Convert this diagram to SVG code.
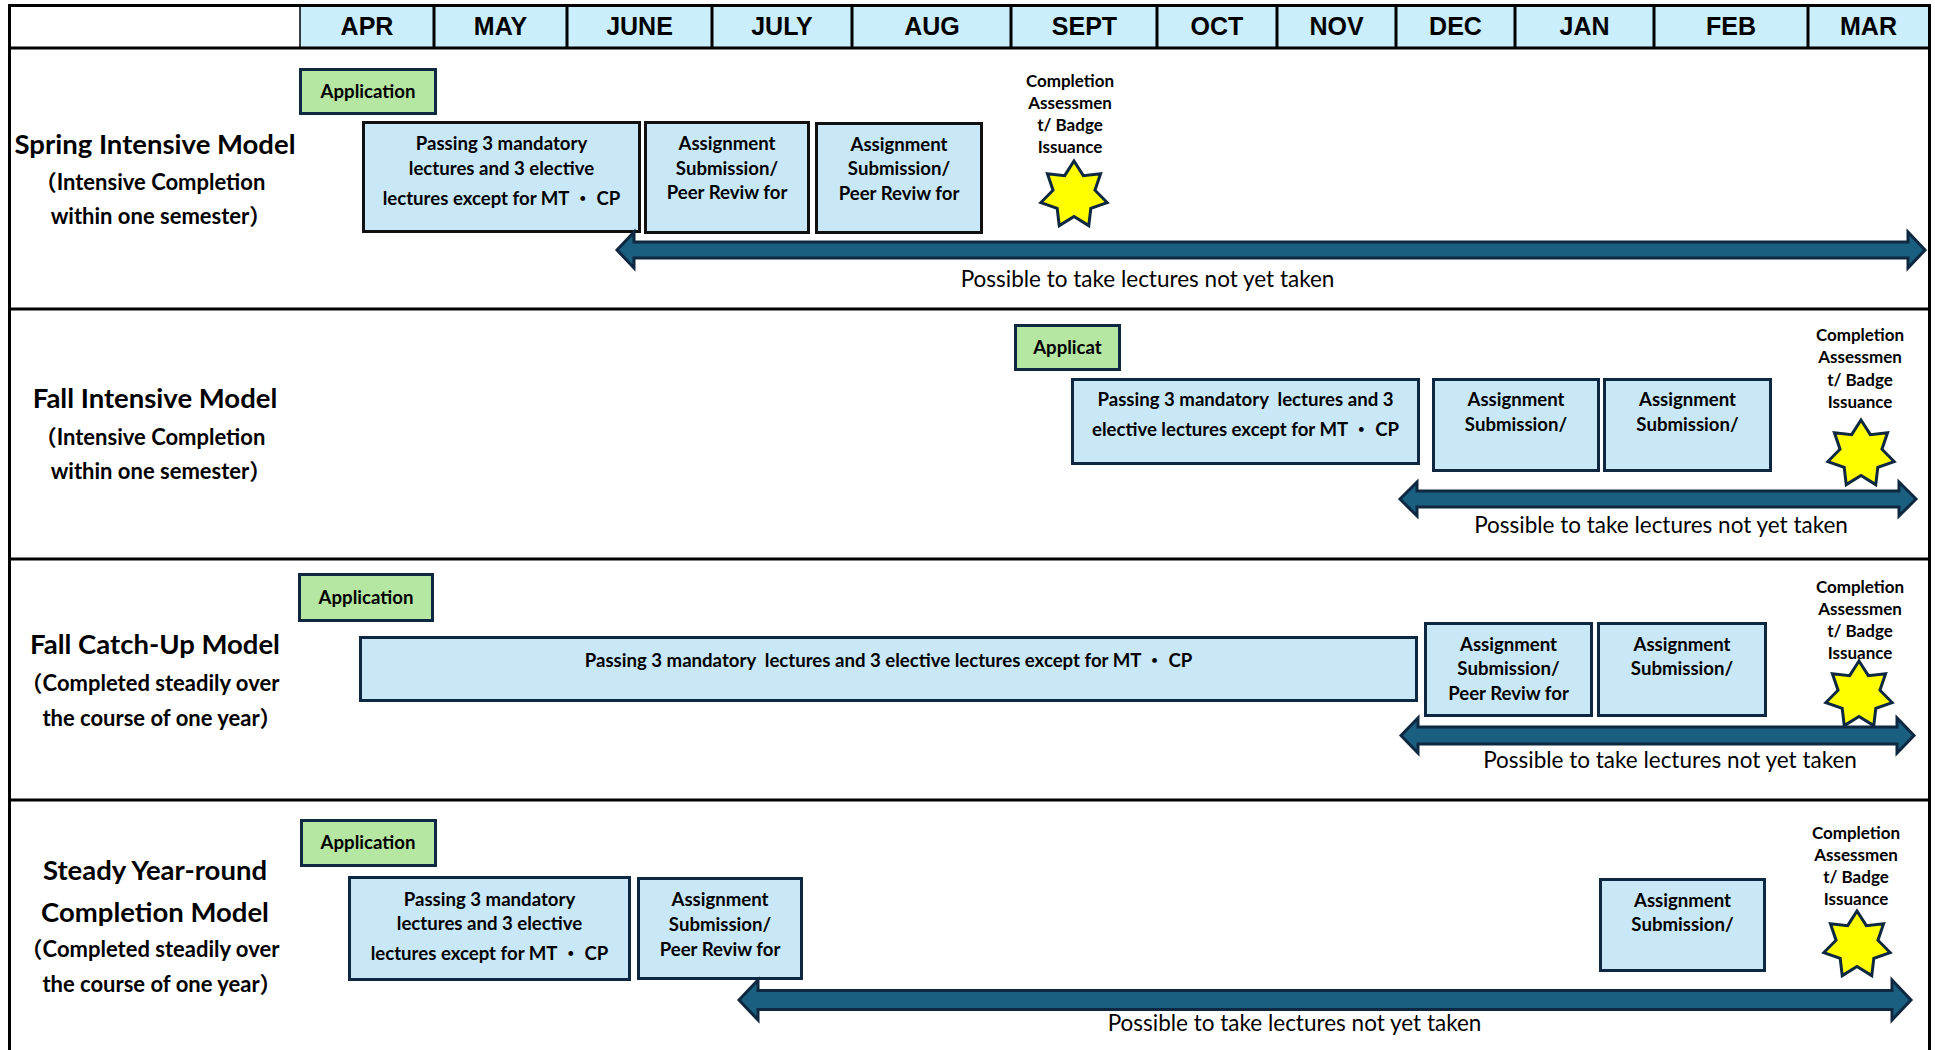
<svg xmlns="http://www.w3.org/2000/svg" xmlns:xlink="http://www.w3.org/1999/xlink" width="1935" height="1050" viewBox="0 0 1935 1050">
<style>
text{font-family:"Lato","Liberation Sans","Noto Sans CJK JP",sans-serif;fill:#000;text-anchor:middle}
.month{font-family:"Liberation Sans","Noto Sans CJK JP",sans-serif;font-weight:bold;font-size:25px}
.title{font-weight:bold;font-size:27.5px}
.sub{font-weight:bold;font-size:22px}
.bt{font-weight:bold;font-size:18.6px;white-space:pre}
.ct{font-weight:bold;font-size:17px}
.poss{font-weight:normal;font-size:22.5px}
.app{fill:#B5E6A2;stroke:#0E2841;stroke-width:3}
.box{fill:#C8E8F7;stroke:#0E2841;stroke-width:3}
.boxk{fill:#C8E8F7;stroke:#111;stroke-width:3}
.arrow{fill:#1A5E80;stroke:#0E2841;stroke-width:3;stroke-linejoin:miter}
.star{fill:#FFFF00;stroke:#0E2841;stroke-width:3;stroke-linejoin:miter}
.grid{stroke:#000;stroke-width:3;fill:none}
</style>
<defs>
<polygon id="star7" class="star" points="0,-34 9.33,-19.37 26.58,-21.2 20.96,-4.78 33.15,7.57 16.81,13.41 14.75,30.63 0,21.5 -14.75,30.63 -16.81,13.41 -33.15,7.57 -20.96,-4.78 -26.58,-21.2 -9.33,-19.37"/>
</defs>
<rect x="0" y="0" width="1935" height="1050" fill="#fff"/>

<g id="header">
<rect x="300" y="6" width="1629" height="42" fill="#CAEEFB"/>
<g class="grid">
<line x1="300" y1="6" x2="300" y2="48" stroke-width="1.5"/>
<line x1="434" y1="6" x2="434" y2="48"/>
<line x1="567" y1="6" x2="567" y2="48"/>
<line x1="712" y1="6" x2="712" y2="48"/>
<line x1="852" y1="6" x2="852" y2="48"/>
<line x1="1011" y1="6" x2="1011" y2="48"/>
<line x1="1157" y1="6" x2="1157" y2="48"/>
<line x1="1277" y1="6" x2="1277" y2="48"/>
<line x1="1396" y1="6" x2="1396" y2="48"/>
<line x1="1515" y1="6" x2="1515" y2="48"/>
<line x1="1654" y1="6" x2="1654" y2="48"/>
<line x1="1808" y1="6" x2="1808" y2="48"/>
</g>
<text class="month" x="367" y="35">APR</text>
<text class="month" x="500.5" y="35">MAY</text>
<text class="month" x="639.5" y="35">JUNE</text>
<text class="month" x="782" y="35">JULY</text>
<text class="month" x="932" y="35">AUG</text>
<text class="month" x="1084.5" y="35">SEPT</text>
<text class="month" x="1217" y="35">OCT</text>
<text class="month" x="1336.5" y="35">NOV</text>
<text class="month" x="1455.5" y="35">DEC</text>
<text class="month" x="1584.5" y="35">JAN</text>
<text class="month" x="1731" y="35">FEB</text>
<text class="month" x="1868.5" y="35">MAR</text>
</g>

<g id="frame">
<rect x="9.5" y="5.5" width="1920" height="1050" class="grid"/>
<line x1="9.5" y1="48" x2="1929.5" y2="48" class="grid" stroke-width="3.5"/>
<line x1="9.5" y1="309" x2="1929.5" y2="309" class="grid"/>
<line x1="9.5" y1="559" x2="1929.5" y2="559" class="grid"/>
<line x1="9.5" y1="800" x2="1929.5" y2="800" class="grid"/>
</g>

<!-- Row 1: Spring Intensive Model -->
<g id="label-spring">
<text class="title" x="155" y="154">Spring Intensive Model</text>
<text class="sub" x="150" y="190">（Intensive Completion</text>
<text class="sub" x="161" y="224">within one semester）</text>
</g>
<g id="spring-application">
<rect class="app" x="300.5" y="69.5" width="135" height="44"/>
<text class="bt" x="368" y="98">Application</text>
</g>
<g id="spring-lectures">
<rect class="boxk" x="363.5" y="122.5" width="276" height="109"/>
<text class="bt" x="501.5" y="150">Passing 3 mandatory</text>
<text class="bt" x="501.5" y="175">lectures and 3 elective</text>
<text class="bt" x="501.5" y="205">lectures except for MT ・ CP</text>
</g>
<g id="spring-assignment-1">
<rect class="boxk" x="645.5" y="122.5" width="163" height="110"/>
<text class="bt" x="727" y="150">Assignment</text>
<text class="bt" x="727" y="174.5">Submission/</text>
<text class="bt" x="727" y="199">Peer Reviw for</text>
</g>
<g id="spring-assignment-2">
<rect class="boxk" x="816.5" y="123.5" width="165" height="109"/>
<text class="bt" x="899" y="150.5">Assignment</text>
<text class="bt" x="899" y="175">Submission/</text>
<text class="bt" x="899" y="199.5">Peer Reviw for</text>
</g>
<g id="spring-completion">
<text class="ct" x="1070" y="86.5">Completion</text>
<text class="ct" x="1070" y="108.5">Assessmen</text>
<text class="ct" x="1070" y="130.5">t/ Badge</text>
<text class="ct" x="1070" y="152.5">Issuance</text>
<use xlink:href="#star7" href="#star7" transform="translate(1074,195)"/>
</g>
<g id="spring-possible">
<text class="poss" x="1147.5" y="287">Possible to take lectures not yet taken</text>
</g>

<!-- Row 2: Fall Intensive Model -->
<g id="label-fall-intensive">
<text class="title" x="155" y="408">Fall Intensive Model</text>
<text class="sub" x="150" y="445">（Intensive Completion</text>
<text class="sub" x="161" y="479">within one semester）</text>
</g>
<g id="fall-application">
<rect class="app" x="1015.5" y="325.5" width="104" height="44"/>
<text class="bt" x="1067.5" y="354">Applicat</text>
</g>
<g id="fall-lectures">
<rect class="box" x="1072.5" y="379.5" width="346" height="84"/>
<text class="bt" x="1245.5" y="406" xml:space="preserve">Passing 3 mandatory  lectures and 3</text>
<text class="bt" x="1245.5" y="436">elective lectures except for MT ・ CP</text>
</g>
<g id="fall-assignment-1">
<rect class="box" x="1433.5" y="379.5" width="165" height="91"/>
<text class="bt" x="1516" y="406">Assignment</text>
<text class="bt" x="1516" y="431">Submission/</text>
</g>
<g id="fall-assignment-2">
<rect class="box" x="1604.5" y="379.5" width="166" height="91"/>
<text class="bt" x="1687.5" y="406">Assignment</text>
<text class="bt" x="1687.5" y="431">Submission/</text>
</g>
<g id="fall-completion">
<text class="ct" x="1860" y="341">Completion</text>
<text class="ct" x="1860" y="363">Assessmen</text>
<text class="ct" x="1860" y="385.5">t/ Badge</text>
<text class="ct" x="1860" y="407.5">Issuance</text>
<use xlink:href="#star7" href="#star7" transform="translate(1861,454)"/>
</g>
<g id="fall-possible">
<text class="poss" x="1661" y="533">Possible to take lectures not yet taken</text>
</g>

<!-- Row 3: Fall Catch-Up Model -->
<g id="label-fall-catchup">
<text class="title" x="155" y="654">Fall Catch-Up Model</text>
<text class="sub" x="150" y="691">（Completed steadily over</text>
<text class="sub" x="162" y="726">the course of one year）</text>
</g>
<g id="catchup-application">
<rect class="app" x="299.5" y="574.5" width="133" height="46"/>
<text class="bt" x="366" y="604">Application</text>
</g>
<g id="catchup-lectures">
<rect class="box" x="360.5" y="637.5" width="1056" height="63"/>
<text class="bt" x="888.5" y="667" xml:space="preserve">Passing 3 mandatory  lectures and 3 elective lectures except for MT ・ CP</text>
</g>
<g id="catchup-assignment-1">
<rect class="box" x="1425.5" y="623.5" width="166" height="92"/>
<text class="bt" x="1508.5" y="651">Assignment</text>
<text class="bt" x="1508.5" y="675">Submission/</text>
<text class="bt" x="1508.5" y="700">Peer Reviw for</text>
</g>
<g id="catchup-assignment-2">
<rect class="box" x="1598.5" y="623.5" width="167" height="92"/>
<text class="bt" x="1682" y="651">Assignment</text>
<text class="bt" x="1682" y="675">Submission/</text>
</g>
<g id="catchup-completion">
<text class="ct" x="1860" y="593">Completion</text>
<text class="ct" x="1860" y="614.5">Assessmen</text>
<text class="ct" x="1860" y="636.5">t/ Badge</text>
<text class="ct" x="1860" y="658.5">Issuance</text>
<use xlink:href="#star7" href="#star7" transform="translate(1859,695)"/>
</g>
<g id="catchup-possible">
<text class="poss" x="1670" y="768">Possible to take lectures not yet taken</text>
</g>

<!-- Row 4: Steady Year-round Completion Model -->
<g id="label-steady">
<text class="title" x="155" y="880">Steady Year-round</text>
<text class="title" x="155" y="921.5">Completion Model</text>
<text class="sub" x="150" y="957">（Completed steadily over</text>
<text class="sub" x="162" y="992">the course of one year）</text>
</g>
<g id="steady-application">
<rect class="app" x="301.5" y="820.5" width="134" height="45"/>
<text class="bt" x="368" y="849">Application</text>
</g>
<g id="steady-lectures">
<rect class="box" x="349.5" y="877.5" width="280" height="102"/>
<text class="bt" x="489.5" y="906">Passing 3 mandatory</text>
<text class="bt" x="489.5" y="930">lectures and 3 elective</text>
<text class="bt" x="489.5" y="960">lectures except for MT ・ CP</text>
</g>
<g id="steady-assignment-1">
<rect class="box" x="638.5" y="878.5" width="163" height="100"/>
<text class="bt" x="720" y="906">Assignment</text>
<text class="bt" x="720" y="930.5">Submission/</text>
<text class="bt" x="720" y="956">Peer Reviw for</text>
</g>
<g id="steady-assignment-2">
<rect class="box" x="1600.5" y="879.5" width="164" height="91"/>
<text class="bt" x="1682.5" y="907">Assignment</text>
<text class="bt" x="1682.5" y="931">Submission/</text>
</g>
<g id="steady-completion">
<text class="ct" x="1856" y="838.5">Completion</text>
<text class="ct" x="1856" y="861">Assessmen</text>
<text class="ct" x="1856" y="883">t/ Badge</text>
<text class="ct" x="1856" y="905">Issuance</text>
<use xlink:href="#star7" href="#star7" transform="translate(1857,945)"/>
</g>
<g id="steady-possible">
<text class="poss" x="1294.5" y="1031">Possible to take lectures not yet taken</text>
</g>

<g id="connectors">
<path class="arrow" d="M617,250 L634,232 L634,242 L1908,242 L1908,232 L1925,250 L1908,268 L1908,258 L634,258 L634,268 Z"/>
<path class="arrow" d="M1400,499 L1417,482 L1417,491 L1899,491 L1899,482 L1916,499 L1899,516 L1899,507 L1417,507 L1417,516 Z"/>
<path class="arrow" d="M1401,735.5 L1418,718 L1418,727 L1897,727 L1897,718 L1914,735.5 L1897,753 L1897,744 L1418,744 L1418,753 Z"/>
<path class="arrow" d="M739,1000 L758,980 L758,990.5 L1892,990.5 L1892,980 L1911,1000 L1892,1020 L1892,1009.5 L758,1009.5 L758,1020 Z"/>
</g>
</svg>
